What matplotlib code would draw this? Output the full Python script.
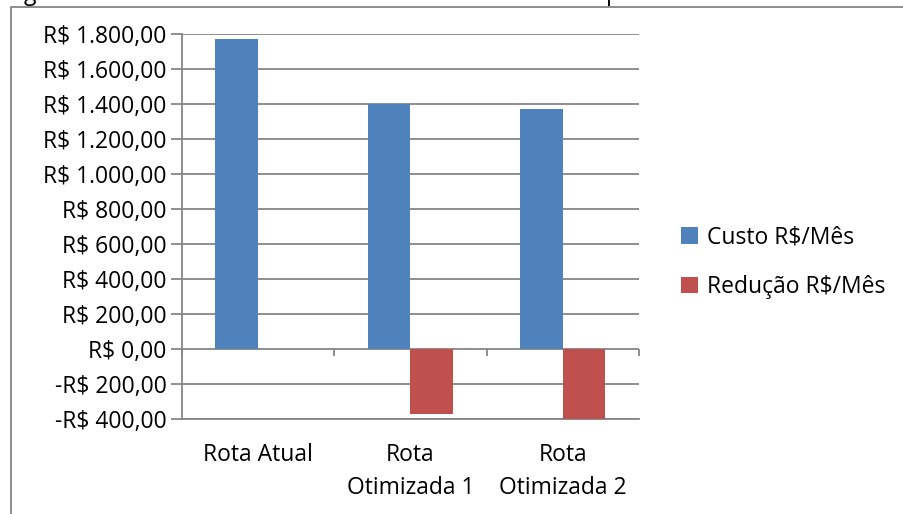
import matplotlib
matplotlib.use("Agg")
import matplotlib.pyplot as plt
from matplotlib.patches import Rectangle, Patch
from matplotlib.ticker import FuncFormatter

# dados do gráfico
rotas = ["Rota Atual", "Rota\nOtimizada 1", "Rota\nOtimizada 2"]
custo_mes = [1770, 1400, 1370]
reducao_mes = [0, -370, -400]
series = ["Custo R$/Mês", "Redução R$/Mês"]
y_ticks = [-400, -200, 0, 200, 400, 600, 800, 1000, 1200, 1400, 1600, 1800]

AZUL = "#4F81BD"
VERMELHO = "#C0504D"
CINZA = "#868686"

plt.rcParams["font.family"] = ["Open Sans", "DejaVu Sans"]
plt.rcParams["font.size"] = 16.5


# formato de moeda brasileiro
def real(v, pos=None):
    s = f"{abs(v):,.2f}".replace(",", "X").replace(".", ",").replace("X", ".")
    return ("-" if v < 0 else "") + "R$ " + s


fig = plt.figure(figsize=(9.04, 5.14), dpi=100)
ax = fig.add_axes([0.2013, 0.1848, 0.5053, 0.7491])

x = list(range(len(rotas)))
w = 0.28
ax.bar([i - w / 2 for i in x], custo_mes, width=w, color=AZUL, zorder=3)
ax.bar([i + w / 2 for i in x], reducao_mes, width=w, color=VERMELHO, zorder=3)

ymin, ymax = y_ticks[0], y_ticks[-1]
ax.set_ylim(ymin, ymax)
ax.set_xlim(-0.5, len(rotas) - 0.5)
ax.set_yticks(y_ticks)
ax.yaxis.set_major_formatter(FuncFormatter(real))
ax.yaxis.grid(True, color=CINZA, linewidth=1.3)
ax.set_axisbelow(True)

ax.set_xticks(x)
ax.set_xticklabels(rotas, linespacing=1.5)
ax.tick_params(axis="x", length=0, pad=17)
ax.tick_params(axis="y", length=8, width=1.3, color=CINZA, pad=3)

for lado in ["top", "right"]:
    ax.spines[lado].set_visible(False)
for lado in ["left", "bottom"]:
    ax.spines[lado].set_color(CINZA)
    ax.spines[lado].set_linewidth(1.3)

# eixo horizontal cruzando no zero, com marcas entre as categorias
zero = (0 - ymin) / (ymax - ymin)
sec = ax.secondary_xaxis(zero)
sec.xaxis.set_ticks_position("bottom")
sec.set_xticks([i - 0.5 for i in range(len(rotas) + 1)])
sec.tick_params(axis="x", direction="out", length=5, width=1.3, color=CINZA,
                labelbottom=False)
for lado in sec.spines:
    sec.spines[lado].set_visible(False)

handles = [Patch(facecolor=AZUL), Patch(facecolor=VERMELHO)]
fig.legend(handles, series, loc="center left", bbox_to_anchor=(0.731, 0.49),
           frameon=False, handlelength=0.72, handleheight=0.72,
           handletextpad=0.4, labelspacing=1.1, fontsize=16.5)

# moldura do gráfico e legenda cortada acima
fig.patches.append(Rectangle((11 / 904, -0.1), 1.2, 0.9864 + 0.1,
                             transform=fig.transFigure, fill=False,
                             edgecolor=CINZA, linewidth=1.3))
fig.text(24 / 904, 1.0, "g", va="baseline", fontsize=16.5)
fig.text(606 / 904, 1.0, "p", va="baseline", fontsize=16.5)

fig.savefig("out.png", dpi=100)
